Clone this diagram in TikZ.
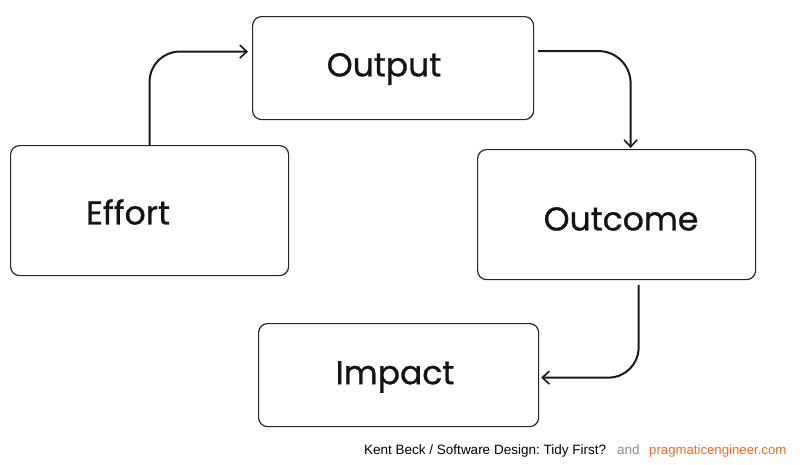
\documentclass[tikz,border=0pt]{standalone}
\usepackage{fontspec}
\setmainfont{Poppins}
\newfontfamily\lblfont{Poppins}[FakeBold=0.8]
\newfontfamily\footfont{Liberation Sans}
\usetikzlibrary{arrows.meta}
\definecolor{pgorange}{HTML}{F26B21}
\definecolor{andgray}{HTML}{8A8A8A}
\frenchspacing
\begin{document}
\begin{tikzpicture}[x=1pt,y=-1pt,
  box/.style={draw=black!85, line width=1.2pt, rounded corners=9pt, inner sep=0pt, anchor=north west},
  lbl/.style={font=\lblfont\fontsize{33}{35}\selectfont, text=black!92, inner sep=0pt},
  arr/.style={draw=black!90, line width=2pt, -{Straight Barb[length=7pt,width=13pt,line width=1.6pt]}},
  foot/.style={font=\footfont\fontsize{13.5}{15}\selectfont, anchor=base west, inner sep=0pt}]
\useasboundingbox (0,0) rectangle (800,464);
\fill[white] (0,0) rectangle (800,464);
\node[box, minimum width=281pt, minimum height=103pt] (output) at (252,16) {};
\node[box, minimum width=278pt, minimum height=130pt] (effort) at (10,145) {};
\node[box, minimum width=278pt, minimum height=130pt] (outcome) at (477,149) {};
\node[box, minimum width=280pt, minimum height=103pt] (impact) at (258,323) {};
\node[lbl] (toutput) at (384,69) {Output};
\node[lbl] (teffort) at (128,212) {Effort};
\node[lbl] (toutcome) at (621,219) {Outcome};
\node[lbl] (timpact) at (395,377) {Impact};
\draw[arr, rounded corners=30pt] (effort.north) |- ([xshift=-4pt,yshift=16.5pt]output.west);
\draw[arr, rounded corners=32pt] ([xshift=4pt,yshift=17pt]output.east) -| ([xshift=14pt,yshift=1pt]outcome.north);
\draw[arr, rounded corners=30pt] ([xshift=22pt,yshift=-5pt]outcome.south) |- ([xshift=2pt,yshift=-2.5pt]impact.east);
\node[foot] (credit) at (364,454) {Kent Beck / Software Design: Tidy First?};
\node[foot, text=andgray] (and) at (617,454) {and};
\node[foot, text=pgorange, font=\footfont\fontsize{13.2}{15}\selectfont] (site) at (649,454) {pragmaticengineer.com};
\end{tikzpicture}
\end{document}
